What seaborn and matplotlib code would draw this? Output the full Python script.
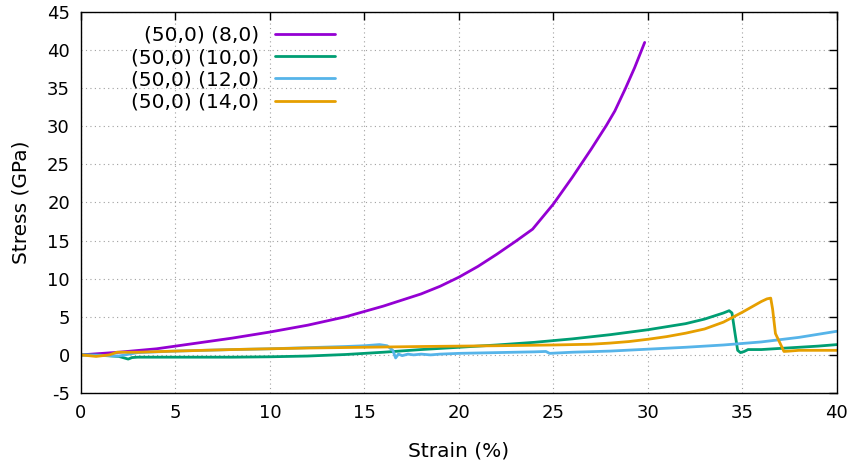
import matplotlib
matplotlib.use("Agg")
import matplotlib.pyplot as plt
import seaborn as sns
import pandas as pd

labels = ["(50,0) (8,0)", "(50,0) (10,0)", "(50,0) (12,0)", "(50,0) (14,0)"]
colors = ["#9400d3", "#009e73", "#56b4e9", "#e69f00"]

x_8 = [0, 2, 4, 6, 8, 10, 12, 14, 16, 18, 19, 20, 21, 22, 23, 23.9, 25, 26, 27, 27.8, 28.25, 28.8, 29.3, 29.83]
y_8 = [0, 0.35, 0.8, 1.5, 2.2, 3.0, 3.9, 5.0, 6.4, 8.0, 9.0, 10.2, 11.6, 13.2, 14.9, 16.5, 19.8, 23.3, 27.0, 30.1, 32.0, 34.9, 37.7, 41.0]

x_10 = [0, 1, 2, 2.5, 2.7, 3, 5, 8, 10, 12, 14, 16, 18, 20, 22, 24, 26, 28, 30, 31, 32, 33, 34, 34.3, 34.45, 34.6, 34.75, 34.9, 35.1, 35.3, 36, 37, 38, 39, 40]
y_10 = [0, -0.05, -0.2, -0.55, -0.35, -0.3, -0.3, -0.3, -0.25, -0.15, 0.05, 0.35, 0.7, 1.0, 1.3, 1.65, 2.1, 2.65, 3.3, 3.7, 4.1, 4.7, 5.5, 5.8, 5.5, 3.0, 0.6, 0.3, 0.45, 0.7, 0.7, 0.85, 1.0, 1.15, 1.35]

x_12 = [0, 1, 2, 3, 5, 8, 10, 12, 14, 15, 15.8, 16.2, 16.5, 16.65, 16.8, 17, 17.3, 17.6, 18, 18.5, 19, 20, 22, 24, 24.6, 24.8, 26, 28, 30, 32, 34, 36, 38, 40]
y_12 = [0, -0.05, -0.15, 0.3, 0.5, 0.7, 0.8, 0.95, 1.1, 1.2, 1.35, 1.2, 0.6, -0.4, 0.1, -0.1, 0.1, 0.0, 0.1, 0.0, 0.1, 0.2, 0.3, 0.4, 0.45, 0.2, 0.35, 0.5, 0.75, 1.0, 1.3, 1.7, 2.3, 3.1]

x_14 = [0, 0.8, 1.5, 1.9, 3, 5, 8, 10, 12, 15, 18, 20, 22, 25, 27, 28, 29, 30, 31, 32, 33, 34, 35, 35.5, 36, 36.3, 36.5, 36.6, 36.75, 37.0, 37.2, 37.5, 38, 39, 40]
y_14 = [0, -0.2, 0.0, 0.35, 0.35, 0.5, 0.7, 0.8, 0.9, 1.0, 1.1, 1.15, 1.2, 1.3, 1.4, 1.55, 1.75, 2.05, 2.4, 2.85, 3.4, 4.3, 5.6, 6.3, 7.0, 7.35, 7.45, 6.0, 2.8, 1.5, 0.45, 0.5, 0.6, 0.6, 0.6]

xs = [x_8, x_10, x_12, x_14]
ys = [y_8, y_10, y_12, y_14]

rows = []
for lab, xx, yy in zip(labels, xs, ys):
    for i, (a, b) in enumerate(zip(xx, yy)):
        rows.append({"series": lab, "order": i, "Strain": a, "Stress": b})
df = pd.DataFrame(rows)

sns.set_style("white")
plt.rcParams['font.family'] = ['DejaVu Sans']
plt.rcParams['axes.unicode_minus'] = False
plt.rcParams['text.color'] = 'black'
plt.rcParams['axes.labelcolor'] = 'black'
plt.rcParams['xtick.color'] = 'black'
plt.rcParams['ytick.color'] = 'black'

fig = plt.figure(figsize=(8.57, 4.63), dpi=100)
ax = fig.add_axes([0.0945, 0.1512, 0.882, 0.823])

sns.lineplot(data=df, x="Strain", y="Stress", hue="series", hue_order=labels,
             palette=colors, sort=False, estimator=None, units="series",
             linewidth=2, ax=ax)

ax.set_xlim(0, 40)
ax.set_ylim(-5, 45)
ax.set_xticks(range(0, 41, 5))
ax.set_yticks(range(-5, 46, 5))
ax.grid(True, color="#a0a0a0", linestyle=(0, (1, 3)), linewidth=0.8)
ax.tick_params(direction="in", top=True, right=True, length=6, width=1,
               labelsize=13, pad=8, colors="black")
for s in ax.spines.values():
    s.set_visible(True)
    s.set_color("black")
    s.set_linewidth(1)
ax.set_xlabel("Strain (%)", fontsize=14.5, labelpad=14, color="black")
ax.set_ylabel("Stress (GPa)", fontsize=14.5, labelpad=12, color="black")

handles, labs = ax.get_legend_handles_labels()
leg = ax.legend(handles, labs, loc="upper right", bbox_to_anchor=(0.336, 0.964),
                frameon=False, markerfirst=False, fontsize=14.5,
                handlelength=3.0, handletextpad=0.75, labelspacing=0.17,
                borderaxespad=0, borderpad=0)
for t in leg.get_texts():
    t.set_color("black")

fig.savefig("out.png", dpi=100)
